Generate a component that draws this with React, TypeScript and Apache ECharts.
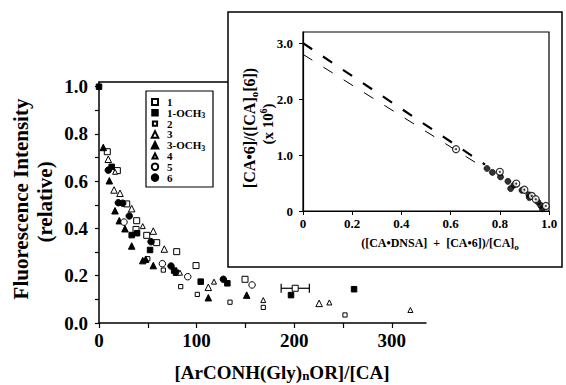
import React, { useEffect, useRef } from "react";
import * as echarts from "echarts";

// ---------- main chart data ----------
const seriesNames = ["1", "1-OCH3", "2", "3", "3-OCH3", "4", "5", "6"];

const series1 = [[8.5, 0.725], [18.8, 0.645], [28.4, 0.504], [38.6, 0.433], [37.9, 0.396], [48.9, 0.371], [59.1, 0.34], [79.6, 0.302], [99.4, 0.243], [149.6, 0.185], [201, 0.147]];
const series1OCH3 = [[0, 1.0], [13, 0.661], [33.5, 0.372], [39, 0.38], [52.3, 0.309], [77, 0.222], [79, 0.213], [104.2, 0.175], [131.5, 0.168], [196.7, 0.118], [261.3, 0.143]];
const series2 = [[50, 0.272], [65.9, 0.224], [83.7, 0.154], [100.7, 0.121], [134.2, 0.088], [168.3, 0.066], [252, 0.034]];
const series3 = [[9.5, 0.693], [15.4, 0.563], [21.5, 0.549], [33.5, 0.484], [55.6, 0.389], [66.9, 0.313], [112, 0.151], [225.5, 0.083]];
const series3OCH3 = [[4.4, 0.743], [10.6, 0.602], [16.4, 0.475], [20.8, 0.433], [26.6, 0.399], [33.5, 0.326], [44.8, 0.264], [47.8, 0.27], [55.6, 0.243], [112, 0.107], [151.3, 0.118]];
const series4 = [[16.5, 0.64], [44.8, 0.41], [83, 0.213], [117.8, 0.175], [168.3, 0.097], [236, 0.087], [319, 0.055]];
const series5 = [[25.6, 0.427], [64.9, 0.251], [90.9, 0.196], [156.8, 0.161]];
const series6 = [[9.5, 0.647], [19.8, 0.509], [24.3, 0.507], [31, 0.453], [53.3, 0.344], [73.8, 0.241], [127.4, 0.185]];
const mainSeriesData = [series1, series1OCH3, series2, series3, series3OCH3, series4, series5, series6];

// [x, y, xLow, xHigh]
const errorBars = [[201, 0.147, 186.6, 215.5]];

const mainXTicks = [0, 100, 200, 300];
const mainXTickMarks = [0, 50, 100, 150, 200, 250, 300];
const mainYTicks = [0, 0.2, 0.4, 0.6, 0.8, 1.0];
const mainYTickMarks = [0, 0.1, 0.2, 0.3, 0.4, 0.5, 0.6, 0.7, 0.8, 0.9, 1.0];

// ---------- inset data ----------
const insetFilled = [[0.748, 0.76], [0.77, 0.69], [0.803, 0.61], [0.833, 0.53], [0.844, 0.4], [0.857, 0.46], [0.89, 0.37], [0.918, 0.29], [0.92, 0.24], [0.955, 0.16], [0.966, 0.1], [0.973, 0.04]];
const insetDotted = [[0.622, 1.105], [0.8, 0.7], [0.867, 0.49], [0.9, 0.38], [0.93, 0.27], [0.946, 0.21], [0.987, 0.09]];
const fitThick = [[0, 3.0], [0.74, 0.83]];
const fitThin = [[0, 2.8], [0.74, 0.76]];
const insetXTicks = [0, 0.2, 0.4, 0.6, 0.8, 1.0];
const insetYTicks = [0, 1, 2, 3];

// ---------- styling ----------
const SERIF = "'Liberation Serif', 'Times New Roman', serif";
const markerStyles = [
  { symbol: "rect", size: 6, filled: false },
  { symbol: "rect", size: 5.5, filled: true },
  { symbol: "rect", size: 4.2, filled: false },
  { symbol: "triangle", size: 6.5, filled: false },
  { symbol: "triangle", size: 6.5, filled: true },
  { symbol: "triangle", size: 5, filled: false },
  { symbol: "circle", size: 6.5, filled: false },
  { symbol: "circle", size: 6.5, filled: true },
];

const inList = (list: number[], v: number) => list.some((t) => Math.abs(t - v) < 1e-6);

function buildOption(): any {
  const axisLine = { show: true, onZero: false, lineStyle: { color: "#000", width: 1.5 } };
  const legendRows = seriesNames.map((_, i) => 102 + i * 10.8);

  const legends = seriesNames.map((name, i) => {
    const w = markerStyles[i].size;
    return {
      data: [name],
      left: 154 - w / 2,
      top: legendRows[i] - 7,
      orient: "vertical",
      padding: 0,
      itemGap: 0,
      itemWidth: w,
      itemHeight: w,
      selectedMode: false,
      z: 4,
      formatter: (n: string) => n.replace("OCH3", "OCH{sub|3}"),
      textStyle: {
        fontFamily: SERIF,
        fontSize: 11,
        fontWeight: "bold",
        color: "#000",
        lineHeight: 14,
        padding: [0, 0, 0, 7 - w / 2],
        rich: { sub: { fontFamily: SERIF, fontSize: 8, fontWeight: "bold", color: "#000", verticalAlign: "bottom" } },
      },
    };
  });

  const textStyleBase = (size: number) => ({
    fontFamily: SERIF,
    fontSize: size,
    fontWeight: "bold",
    fill: "#000",
    align: "center",
    verticalAlign: "middle",
    textAlign: "center",
    textVerticalAlign: "middle",
  });

  return {
    animation: false,
    backgroundColor: "#fff",
    grid: [
      { left: 99, top: 82, width: 327, height: 241 },
      { left: 303, top: 32, width: 246, height: 179, show: true, borderColor: "#000", borderWidth: 1.2, z: 9 },
    ],
    xAxis: [
      {
        gridIndex: 0, type: "value", min: 0, max: 335, interval: 100,
        axisLine,
        axisTick: { show: true, length: 5, customValues: mainXTickMarks, lineStyle: { color: "#000", width: 1.2 } },
        axisLabel: {
          customValues: mainXTicks, margin: 8, color: "#000", fontFamily: SERIF, fontSize: 19, fontWeight: "bold",
          formatter: (v: number) => (inList(mainXTicks, v) ? String(v) : ""),
        },
        splitLine: { show: false },
      },
      {
        gridIndex: 0, type: "value", position: "top", min: 0, max: 335,
        axisLine, axisTick: { show: false }, axisLabel: { show: false }, splitLine: { show: false },
      },
      {
        gridIndex: 1, type: "value", min: 0, max: 1, interval: 0.2, z: 10,
        axisLine: { show: true, onZero: false, lineStyle: { color: "#000", width: 1.2 } },
        axisTick: { show: true, length: 4, customValues: insetXTicks, lineStyle: { color: "#000", width: 1 } },
        axisLabel: {
          customValues: insetXTicks, margin: 6, color: "#000", fontFamily: SERIF, fontSize: 13, fontWeight: "bold",
          formatter: (v: number) => (inList(insetXTicks, v) ? (v === 0 ? "0" : v.toFixed(1)) : ""),
        },
        splitLine: { show: false },
      },
    ],
    yAxis: [
      {
        gridIndex: 0, type: "value", min: 0, max: 1.02, interval: 0.2,
        axisLine,
        axisTick: { show: true, length: 4, customValues: mainYTickMarks, lineStyle: { color: "#000", width: 1.2 } },
        axisLabel: {
          customValues: mainYTicks, margin: 11, color: "#000", fontFamily: SERIF, fontSize: 19, fontWeight: "bold",
          formatter: (v: number) => (inList(mainYTicks, v) ? v.toFixed(1) : ""),
        },
        splitLine: { show: false },
      },
      {
        gridIndex: 1, type: "value", min: 0, max: 3.2, interval: 1, z: 10,
        axisLine: { show: true, onZero: false, lineStyle: { color: "#000", width: 1.2 } },
        axisTick: { show: true, length: 4, customValues: insetYTicks, lineStyle: { color: "#000", width: 1 } },
        axisLabel: {
          customValues: insetYTicks, margin: 10, color: "#000", fontFamily: SERIF, fontSize: 13, fontWeight: "bold",
          formatter: (v: number) => (inList(insetYTicks, v) ? (v === 0 ? "0" : v.toFixed(1)) : ""),
        },
        splitLine: { show: false },
      },
    ],
    legend: legends,
    graphic: [
      { type: "rect", z: 3, shape: { x: 146, y: 91, width: 67, height: 96 }, style: { fill: "#fff", stroke: "#000", lineWidth: 1.2 } },
      { type: "rect", z: 5, shape: { x: 228, y: 12, width: 334, height: 255 }, style: { fill: "#fff", stroke: "#000", lineWidth: 1.5 } },
      { type: "text", z: 6, x: 21, y: 199, rotation: Math.PI / 2, style: { ...textStyleBase(21), text: "Fluorescence Intensity" } },
      { type: "text", z: 6, x: 45, y: 202, rotation: Math.PI / 2, style: { ...textStyleBase(21), text: "(relative)" } },
      {
        type: "text", z: 6, x: 282, y: 372,
        style: {
          ...textStyleBase(19), lineHeight: 20, text: "[ArCONH(Gly){sub|n}OR]/[CA]",
          rich: { sub: { fontFamily: SERIF, fontSize: 13, fontWeight: "bold", fill: "#000", verticalAlign: "bottom" } },
        },
      },
      {
        type: "text", z: 12, x: 440, y: 243,
        style: {
          ...textStyleBase(12), lineHeight: 16, text: "([CA•DNSA]  +  [CA•6])/[CA]{sub|o}",
          rich: { sub: { fontFamily: SERIF, fontSize: 9, fontWeight: "bold", fill: "#000", verticalAlign: "bottom" } },
        },
      },
      {
        type: "text", z: 12, x: 249, y: 128, rotation: Math.PI / 2,
        style: {
          ...textStyleBase(16), lineHeight: 21, text: "[CA•6]/([CA]{sub|o}[6])",
          rich: { sub: { fontFamily: SERIF, fontSize: 11, fontWeight: "bold", fill: "#000", verticalAlign: "bottom" } },
        },
      },
      {
        type: "text", z: 12, x: 268, y: 124, rotation: Math.PI / 2,
        style: {
          ...textStyleBase(15), lineHeight: 20, text: "(x 10{sup|6})",
          rich: { sup: { fontFamily: SERIF, fontSize: 10, fontWeight: "bold", fill: "#000", verticalAlign: "top" } },
        },
      },
    ],
    series: [
      {
        type: "custom", name: "errorbar", xAxisIndex: 0, yAxisIndex: 0, z: 1, silent: true,
        data: errorBars,
        encode: { x: [0, 2, 3], y: 1 },
        renderItem: (_p: any, api: any) => {
          const y = api.value(1);
          const lo = api.coord([api.value(2), y]);
          const hi = api.coord([api.value(3), y]);
          const h = 4.5;
          const st = { stroke: "#000", lineWidth: 1.2 };
          return {
            type: "group",
            children: [
              { type: "line", shape: { x1: lo[0], y1: lo[1], x2: hi[0], y2: hi[1] }, style: st },
              { type: "line", shape: { x1: lo[0], y1: lo[1] - h, x2: lo[0], y2: lo[1] + h }, style: st },
              { type: "line", shape: { x1: hi[0], y1: hi[1] - h, x2: hi[0], y2: hi[1] + h }, style: st },
            ],
          };
        },
      },
      ...mainSeriesData.map((data, i) => ({
        name: seriesNames[i],
        type: "scatter",
        xAxisIndex: 0,
        yAxisIndex: 0,
        data,
        symbol: markerStyles[i].symbol,
        symbolSize: markerStyles[i].size,
        itemStyle: { color: markerStyles[i].filled ? "#000" : "#fff", borderColor: "#000", borderWidth: 1, opacity: 1 },
        z: 2,
        silent: true,
      })),
      {
        type: "line", name: "fit-a", xAxisIndex: 2, yAxisIndex: 1, data: fitThick, symbol: "none", z: 10, silent: true,
        lineStyle: { color: "#000", width: 2.2, type: [11, 13] },
      },
      {
        type: "line", name: "fit-b", xAxisIndex: 2, yAxisIndex: 1, data: fitThin, symbol: "none", z: 10, silent: true,
        lineStyle: { color: "#000", width: 1, type: [11, 13] },
      },
      {
        type: "scatter", name: "inset-filled", xAxisIndex: 2, yAxisIndex: 1, data: insetFilled, symbol: "circle", symbolSize: 6,
        itemStyle: { color: "#000", borderColor: "#000", borderWidth: 0.8 }, z: 11, silent: true,
      },
      {
        type: "scatter", name: "inset-open", xAxisIndex: 2, yAxisIndex: 1, data: insetDotted, symbol: "circle", symbolSize: 7,
        itemStyle: { color: "#fff", borderColor: "#000", borderWidth: 1.2 }, z: 11, silent: true,
      },
      {
        type: "scatter", name: "inset-dot", xAxisIndex: 2, yAxisIndex: 1, data: insetDotted, symbol: "circle", symbolSize: 2,
        itemStyle: { color: "#000" }, z: 12, silent: true,
      },
    ],
  };
}

export default function App() {
  const ref = useRef<HTMLDivElement>(null);
  useEffect(() => {
    if (!ref.current) return;
    const chart = echarts.init(ref.current, null, { renderer: "svg" });
    chart.setOption(buildOption());
    return () => chart.dispose();
  }, []);
  return (
    <div
      ref={ref}
      style={{ position: "absolute", left: 0, top: 0, width: 566, height: 385, background: "#fff" }}
    />
  );
}
